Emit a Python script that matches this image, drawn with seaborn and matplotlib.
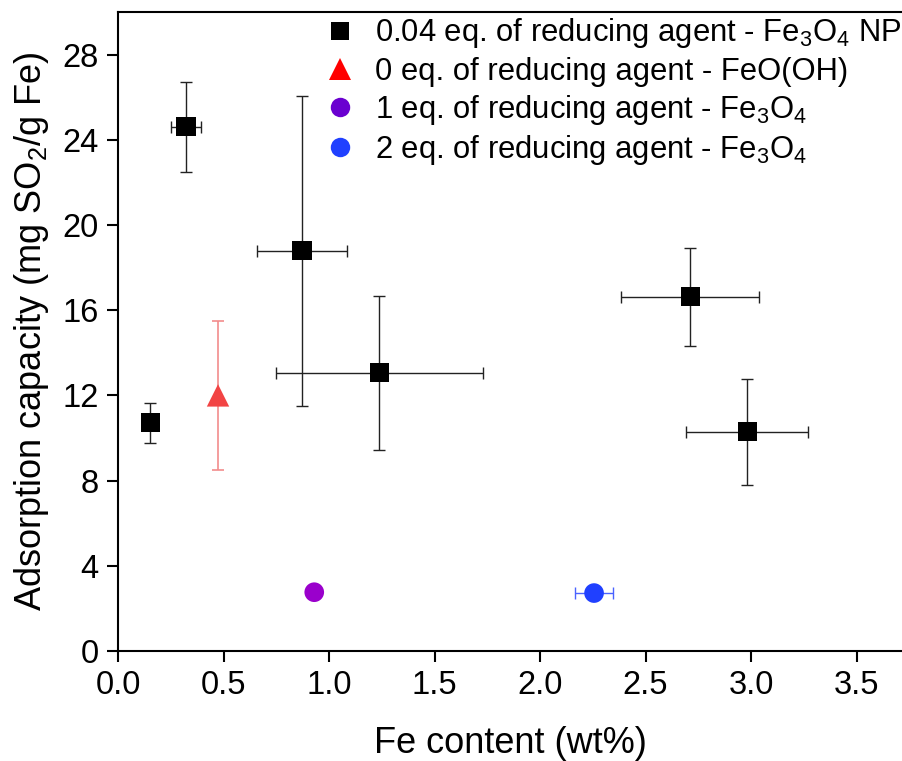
import matplotlib
matplotlib.use("Agg")
import matplotlib.pyplot as plt
from matplotlib.lines import Line2D
import seaborn as sns
import pandas as pd

# ---- data ----
np_x = [0.152, 0.322, 0.872, 1.238, 2.711, 2.982]
np_y = [10.71, 24.61, 18.79, 13.06, 16.63, 10.29]
np_xerr = [0.0, 0.07, 0.215, 0.49, 0.328, 0.29]
np_yerr = [0.95, 2.10, 7.27, 3.63, 2.31, 2.50]

feooh_x = [0.474]
feooh_y = [12.0]
feooh_yerr = [3.48]

eq1_x = [0.930]
eq1_y = [2.76]

eq2_x = [2.256]
eq2_y = [2.72]
eq2_xerr = [0.09]

labels = [r"0.04 eq. of reducing agent - Fe$_{\mathrm{3}}$O$_{\mathrm{4}}$ NP",
          "0 eq. of reducing agent - FeO(OH)",
          r"1 eq. of reducing agent - Fe$_{\mathrm{3}}$O$_{\mathrm{4}}$",
          r"2 eq. of reducing agent - Fe$_{\mathrm{3}}$O$_{\mathrm{4}}$"]
x_ticks = [0.0, 0.5, 1.0, 1.5, 2.0, 2.5, 3.0, 3.5]
y_ticks = [0, 4, 8, 12, 16, 20, 24, 28]

sns.set_theme(style="ticks")
plt.rcParams['font.family'] = ['Liberation Sans', 'DejaVu Sans']
plt.rcParams['text.color'] = 'black'
plt.rcParams['axes.labelcolor'] = 'black'
plt.rcParams['mathtext.fontset'] = 'custom'
plt.rcParams['mathtext.rm'] = 'Liberation Sans'
plt.rcParams['mathtext.it'] = 'Liberation Sans:italic'
plt.rcParams['mathtext.bf'] = 'Liberation Sans:bold'

fig = plt.figure(figsize=(9.03, 7.61), dpi=100)
ax = fig.add_axes([118/903, 1-651/761, 1-118/903, (651-12)/761])

# error bars
ax.errorbar(np_x, np_y, xerr=np_xerr, yerr=np_yerr, fmt='none', ecolor='#222222',
            elinewidth=1.0, capsize=4.5, capthick=1.0, zorder=1)
ax.errorbar(feooh_x, feooh_y, yerr=feooh_yerr, fmt='none', ecolor='#F28C8C',
            elinewidth=1.2, capsize=4.5, capthick=1.2, zorder=1)
ax.errorbar(eq2_x, eq2_y, xerr=eq2_xerr, fmt='none', ecolor='#4A62FF',
            elinewidth=1.0, capsize=4.5, capthick=1.0, zorder=1)

# markers
sns.scatterplot(data=pd.DataFrame({'x': np_x, 'y': np_y}), x='x', y='y', ax=ax,
                marker='s', s=190, color='black', edgecolor='none', linewidth=0, zorder=3)
sns.scatterplot(data=pd.DataFrame({'x': feooh_x, 'y': feooh_y}), x='x', y='y', ax=ax,
                marker='^', s=260, color='#F24444', edgecolor='none', linewidth=0, zorder=3)
sns.scatterplot(data=pd.DataFrame({'x': eq1_x, 'y': eq1_y}), x='x', y='y', ax=ax,
                marker='o', s=200, color='#9A00CC', edgecolor='none', linewidth=0, zorder=3)
sns.scatterplot(data=pd.DataFrame({'x': eq2_x, 'y': eq2_y}), x='x', y='y', ax=ax,
                marker='o', s=200, color='#2040FF', edgecolor='none', linewidth=0, zorder=3)

ax.set_xlim(0, 3.72)
ax.set_ylim(0, 30)
ax.set_xticks(x_ticks)
ax.set_xticklabels([f"{t:.1f}" for t in x_ticks])
ax.set_yticks(y_ticks)
ax.set_yticklabels([str(t) for t in y_ticks])
ax.tick_params(axis='both', direction='out', length=8, width=1.5, labelsize=23.5,
               color='black', labelcolor='black', pad=6)
for side in ['left', 'bottom', 'top']:
    ax.spines[side].set_linewidth(1.5)
    ax.spines[side].set_color('black')
ax.spines['right'].set_visible(False)

ax.set_xlabel("Fe content (wt%)", fontsize=26, color='black', labelpad=18)
ax.set_ylabel(r"Adsorption capacity (mg SO$_{\mathrm{2}}$/g Fe)", fontsize=26, color='black', labelpad=8)

handles = [
    Line2D([], [], linestyle='none', marker='s', markersize=13.5, color='black', markeredgewidth=0),
    Line2D([], [], linestyle='none', marker='^', markersize=16, color='#FF0000', markeredgewidth=0),
    Line2D([], [], linestyle='none', marker='o', markersize=14, color='#6A00D0', markeredgewidth=0),
    Line2D([], [], linestyle='none', marker='o', markersize=14, color='#2040FF', markeredgewidth=0),
]
leg = ax.legend(handles, labels, loc='upper left', bbox_to_anchor=(0.264, 0.993), frameon=False,
                fontsize=22.3, borderpad=0, handlelength=0.98, handletextpad=0.62,
                labelspacing=0.2, borderaxespad=0)
for t in leg.get_texts():
    t.set_color('black')

fig.savefig("out.png", dpi=100)
